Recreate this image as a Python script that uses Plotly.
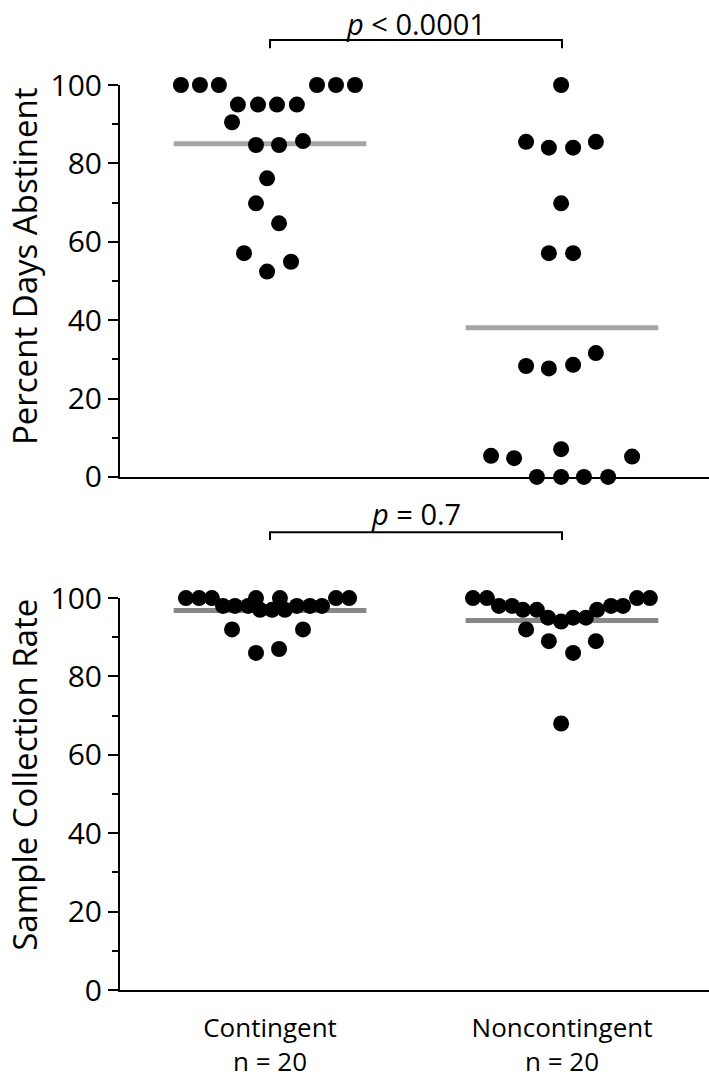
import plotly.graph_objects as go

categories = ["Contingent", "Noncontingent"]
n_labels = ["n = 20", "n = 20"]
y_titles = ["Percent Days Abstinent", "Sample Collection Rate"]

# Top panel: Percent Days Abstinent
abst_cont = [100, 100, 100, 100, 100, 100, 95, 95, 95, 95, 90.5, 84.7, 84.7, 85.7,
             76.2, 69.8, 64.7, 57.1, 52.4, 54.9]
abst_cont_off = [-0.305, -0.240, -0.175, 0.161, 0.226, 0.291, -0.110, -0.041, 0.024, 0.092,
                 -0.130, -0.048, 0.031, 0.113, -0.010, -0.048, 0.031, -0.089, -0.010, 0.072]
abst_non = [100, 85.5, 84.0, 84.0, 85.5, 69.8, 57.1, 57.1, 28.3, 27.7, 28.6, 31.6,
            5.4, 4.8, 7.1, 5.2, 0, 0, 0, 0]
abst_non_off = [-0.003, -0.123, -0.045, 0.038, 0.116, -0.003, -0.045, 0.038, -0.123, -0.045,
                0.038, 0.116, -0.243, -0.164, -0.003, 0.240, -0.086, -0.003, 0.075, 0.158]

# Bottom panel: Sample Collection Rate
coll_cont = [100, 100, 100, 100, 100, 100, 100, 98, 98, 98, 97, 97, 97, 98, 98, 98,
             92, 92, 86, 87]
coll_cont_off = [-0.288, -0.243, -0.199, -0.048, 0.034, 0.226, 0.271, -0.161, -0.120, -0.075,
                 -0.034, 0.007, 0.051, 0.092, 0.137, 0.178, -0.130, 0.113, -0.048, 0.031]
coll_non = [100, 100, 100, 100, 98, 98, 98, 98, 97, 97, 97, 95, 95, 95, 94, 92, 89, 89, 86, 68]
coll_non_off = [-0.305, -0.257, 0.257, 0.301, -0.216, -0.171, 0.168, 0.209, -0.134, -0.086,
                0.120, -0.048, 0.038, 0.082, -0.003, -0.123, -0.045, 0.116, 0.038, -0.003]

p_top = "<i>p</i> < 0.0001"
p_bottom = "<i>p</i> = 0.7"

FONT = "Open Sans"
MEAN_HALF = 0.33
YMAX = 100.0

fig = go.Figure()

def add_group(values, offsets, idx, xa, ya, mean_color):
    m = sum(values) / len(values)
    fig.add_trace(go.Scatter(x=[idx - MEAN_HALF, idx + MEAN_HALF], y=[m, m], mode="lines",
                             line=dict(color=mean_color, width=5), xaxis=xa, yaxis=ya,
                             showlegend=False, hoverinfo="skip"))
    fig.add_trace(go.Scatter(x=[idx + o for o in offsets], y=values, mode="markers",
                             marker=dict(color="black", size=16, line=dict(width=0)),
                             xaxis=xa, yaxis=ya, showlegend=False, cliponaxis=False))

add_group(abst_cont, abst_cont_off, 0, "x", "y", "#a6a6a6")
add_group(abst_non, abst_non_off, 1, "x", "y", "#a6a6a6")
add_group(coll_cont, coll_cont_off, 0, "x2", "y2", "#878787")
add_group(coll_non, coll_non_off, 1, "x2", "y2", "#878787")

# significance brackets (y given in axis units, converted to axis-domain fraction)
for xr, yr, ybar, yend, ytxt, txt in [("x", "y domain", 111.5, 109.4, 115.8, p_top),
                                       ("x2", "y2 domain", 116.8, 114.8, 121.6, p_bottom)]:
    yb, ye, yt = ybar / YMAX, yend / YMAX, ytxt / YMAX
    fig.add_shape(type="path", xref=xr, yref=yr,
                  path=f"M 0 {ye} L 0 {yb} L 1 {yb} L 1 {ye}",
                  line=dict(color="black", width=2))
    fig.add_annotation(x=0.5, y=yt, xref=xr, yref=yr, text=txt, showarrow=False,
                       font=dict(family=FONT, size=29, color="black"), yanchor="middle")

# y-axis titles
for yr, ypos, title in [("y domain", 0.537, y_titles[0]), ("y2 domain", 0.548, y_titles[1])]:
    fig.add_annotation(x=-0.162, y=ypos, xref="paper", yref=yr, text=title, showarrow=False,
                       textangle=-90, xanchor="center", yanchor="middle",
                       font=dict(family=FONT, size=33, color="black"))

xrange = [-0.5137, 1.5034]
yaxis_common = dict(range=[0, YMAX], tickvals=[0, 20, 40, 60, 80, 100], ticks="outside",
                    ticklen=10, tickwidth=2, tickcolor="black", showline=True, linewidth=2,
                    linecolor="black", showgrid=False, zeroline=False,
                    tickfont=dict(family=FONT, size=30, color="black"),
                    minor=dict(dtick=10, tick0=0, ticks="outside", ticklen=6, tickwidth=2,
                               tickcolor="black", showgrid=False))

fig.update_layout(
    width=709, height=1085,
    margin=dict(l=120, r=0, t=85, b=95, autoexpand=False),
    plot_bgcolor="white", paper_bgcolor="white",
    xaxis=dict(domain=[0, 1], range=xrange, showline=True, linewidth=2, linecolor="black",
               showgrid=False, zeroline=False, showticklabels=False, ticks="", anchor="y"),
    xaxis2=dict(domain=[0, 1], range=xrange, showline=True, linewidth=2, linecolor="black",
                showgrid=False, zeroline=False, ticks="", anchor="y2",
                tickvals=[0, 1], ticklabelstandoff=14,
                ticktext=[f"{c}<br>{n}" for c, n in zip(categories, n_labels)],
                tickfont=dict(family=FONT, size=26, color="black")),
    yaxis=dict(domain=[0.5669, 1], anchor="x", **yaxis_common),
    yaxis2=dict(domain=[0, 0.4331], anchor="x2", **yaxis_common),
)

fig.write_html("out.html", config={"displayModeBar": False},
               post_script="document.body.style.margin='0px';")
